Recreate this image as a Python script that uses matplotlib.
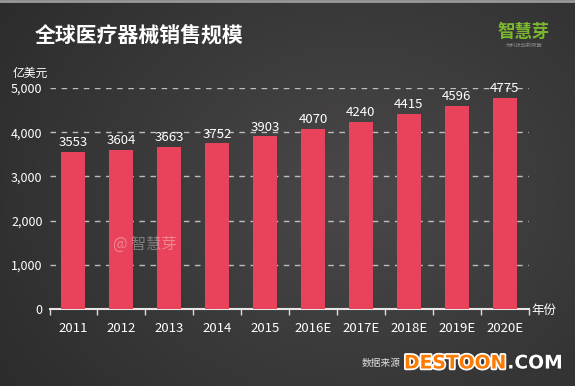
import numpy as np
import matplotlib
matplotlib.use("Agg")
import matplotlib.pyplot as plt
import matplotlib.patheffects as pe

plt.rcParams['font.family'] = ['Noto Sans CJK SC', 'DejaVu Sans']

# 数据
years = ["2011", "2012", "2013", "2014", "2015",
         "2016E", "2017E", "2018E", "2019E", "2020E"]
sales = [3553, 3604, 3663, 3752, 3903, 4070, 4240, 4415, 4596, 4775]
y_ticks = [0, 1000, 2000, 3000, 4000, 5000]
y_labels = ["0", "1,000", "2,000", "3,000", "4,000", "5,000"]

W, H = 575, 386
fig = plt.figure(figsize=(W / 100, H / 100), dpi=100)

# 背景渐变
bg = fig.add_axes([0, 0, 1, 1])
yy, xx = np.mgrid[0:1:200j, 0:1:300j]
r = np.sqrt(((xx - 0.62) / 0.75) ** 2 + ((yy - 0.5) / 0.9) ** 2)
r = np.clip(r, 0, 1)
c0 = np.array([0x4a, 0x48, 0x49]) / 255
c1 = np.array([0x2c, 0x2c, 0x2d]) / 255
img = c0[None, None, :] * (1 - r[..., None]) + c1[None, None, :] * r[..., None]
bg.imshow(img, aspect='auto', extent=[0, 1, 0, 1], origin='upper')
bg.axhline(0.997, color='#9a9a9a', lw=2)
bg.set_xlim(0, 1)
bg.set_ylim(0, 1)
bg.axis('off')

# 主图
ax = fig.add_axes([49.5 / W, 1 - 309 / H, 479 / W, (309 - 88) / H])
ax.set_facecolor('none')
x = np.arange(len(years))
bars = ax.bar(x, sales, width=0.5, color='#e8435a', zorder=3)
for xi, v in zip(x, sales):
    ax.text(xi, v + 60, str(v), ha='center', va='bottom', color='white', fontsize=9.5, zorder=4)

ax.set_xlim(-0.5, len(years) - 0.5)
ax.set_ylim(0, 5000)
ax.set_yticks(y_ticks)
ax.set_yticklabels(y_labels)
ax.set_xticks(x)
ax.set_xticklabels(years)
ax.set_xticks(np.arange(-0.5, len(years)), minor=True)
ax.tick_params(axis='x', which='major', length=0, pad=9, labelsize=9.5, labelcolor='white')
ax.tick_params(axis='x', which='minor', length=4, width=1, color='#dddddd', direction='out')
ax.tick_params(axis='y', length=0, pad=5, labelsize=9, labelcolor='white')

ax.yaxis.grid(True, linestyle=(0, (4, 4)), color='#bdbdbd', lw=1, zorder=1)
for g in ax.get_ygridlines()[:1]:
    g.set_visible(False)
for s in ['top', 'right', 'left']:
    ax.spines[s].set_visible(False)
ax.spines['bottom'].set_color('#e6e6e6')
ax.spines['bottom'].set_linewidth(1.5)

# 文字
fig.text(35 / W, 1 - 35 / H, "全球医疗器械销售规模", color='white', fontsize=15,
         fontweight='bold', va='center', ha='left')
fig.text(13 / W, 1 - 73 / H, "亿美元", color='white', fontsize=8.5, va='center', ha='left')
fig.text(531 / W, 1 - 310 / H, "年份", color='white', fontsize=9, va='center', ha='left')
fig.text(524 / W, 1 - 32 / H, "智慧芽", color='#7cb82f', fontsize=12.5,
         fontweight='bold', va='center', ha='center')
fig.text(524 / W, 1 - 45 / H, "为科技创新赋能", color='#8a8a8a', fontsize=3.8,
         va='center', ha='center')
fig.text(113 / W, 1 - 244 / H, "@ 智慧芽", color='white', alpha=0.35, fontsize=11,
         va='center', ha='left')
fig.text(362 / W, 1 - 363 / H, "数据来源", color='#dddddd', fontsize=7,
         va='center', ha='left')
t1 = fig.text(404 / W, 1 - 363 / H, "DESTOON", color='#ff7a00', fontsize=13.5,
              fontweight='heavy', va='center', ha='left', family='DejaVu Sans')
t1.set_path_effects([pe.withStroke(linewidth=2.5, foreground='white')])
fig.canvas.draw()
bb = t1.get_window_extent()
t2 = fig.text(bb.x1 / W + 1 / W, 1 - 363 / H, ".COM", color='white', fontsize=13.5,
              fontweight='heavy', va='center', ha='left', family='DejaVu Sans')
t2.set_path_effects([pe.withStroke(linewidth=2.5, foreground='#333333')])

fig.savefig("out.png", dpi=100)
